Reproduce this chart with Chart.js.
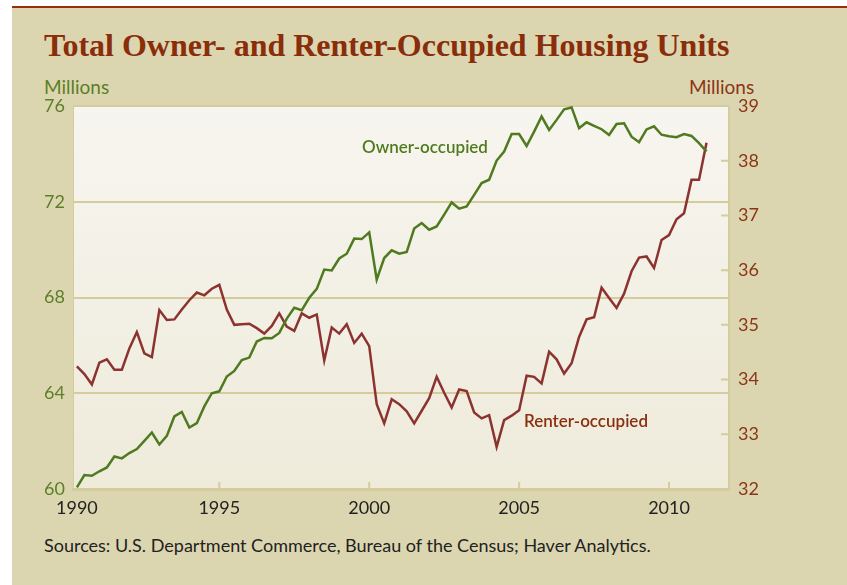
<!DOCTYPE html>
<html lang="en">
<head>
<meta charset="UTF-8">
<title>Total Owner- and Renter-Occupied Housing Units</title>
<script src="https://cdn.jsdelivr.net/npm/chart.js@4"></script>
<style>
  body { margin: 0; background: #fff; width: 847px; height: 585px; position: relative; overflow: hidden; }
  #rule { position: absolute; left: 12px; top: 6px; width: 835px; height: 2px; background: #9a2b0b; }
  #panel { position: absolute; left: 12px; top: 8px; width: 835px; height: 577px; background: #dcd6b0; }
  #titre { position: absolute; left: 44px; top: 27px; font-family: "Liberation Serif", serif; font-size: 32px; font-weight: bold; color: #8a2d0b; white-space: nowrap; }
  .unite { position: absolute; top: 75px; font-family: Lato, sans-serif; font-size: 19px; }
  #uniteG { left: 44px; color: #5b7f26; }
  #uniteD { left: 689px; color: #8b3516; }
  #sources { position: absolute; left: 44px; top: 534px; font-family: Lato, sans-serif; font-size: 18px; color: #222; white-space: nowrap; }
  canvas { position: absolute; left: 0; top: 0; }
</style>
</head>
<body>
  <div id="rule"></div>
  <div id="panel"></div>
  <div id="titre">Total Owner- and Renter-Occupied Housing Units</div>
  <div class="unite" id="uniteG">Millions</div>
  <div class="unite" id="uniteD">Millions</div>
  <div id="sources">Sources: U.S. Department Commerce, Bureau of the Census; Haver Analytics.</div>
  <canvas id="graphique" width="847" height="585"></canvas>

  <script>
    // quarterly data, millions of units
    const quarters = [
      "1990Q1","1990Q2","1990Q3","1990Q4", "1991Q1","1991Q2","1991Q3","1991Q4",
      "1992Q1","1992Q2","1992Q3","1992Q4", "1993Q1","1993Q2","1993Q3","1993Q4",
      "1994Q1","1994Q2","1994Q3","1994Q4", "1995Q1","1995Q2","1995Q3","1995Q4",
      "1996Q1","1996Q2","1996Q3","1996Q4", "1997Q1","1997Q2","1997Q3","1997Q4",
      "1998Q1","1998Q2","1998Q3","1998Q4", "1999Q1","1999Q2","1999Q3","1999Q4",
      "2000Q1","2000Q2","2000Q3","2000Q4", "2001Q1","2001Q2","2001Q3","2001Q4",
      "2002Q1","2002Q2","2002Q3","2002Q4", "2003Q1","2003Q2","2003Q3","2003Q4",
      "2004Q1","2004Q2","2004Q3","2004Q4", "2005Q1","2005Q2","2005Q3","2005Q4",
      "2006Q1","2006Q2","2006Q3","2006Q4", "2007Q1","2007Q2","2007Q3","2007Q4",
      "2008Q1","2008Q2","2008Q3","2008Q4", "2009Q1","2009Q2","2009Q3","2009Q4",
      "2010Q1","2010Q2","2010Q3","2010Q4", "2011Q1"
    ];

    const owner = [
      60.07, 60.58, 60.55, 60.74, 60.90, 61.36, 61.28, 61.50,
      61.67, 62.01, 62.36, 61.86, 62.22, 63.03, 63.22, 62.57,
      62.75, 63.45, 64.00, 64.08, 64.70, 64.93, 65.39, 65.49,
      66.16, 66.31, 66.30, 66.52, 67.12, 67.57, 67.47, 67.99,
      68.36, 69.17, 69.13, 69.63, 69.83, 70.46, 70.44, 70.72,
      68.75, 69.65, 69.97, 69.83, 69.90, 70.88, 71.11, 70.83,
      70.97, 71.46, 71.97, 71.71, 71.80, 72.29, 72.78, 72.92,
      73.72, 74.10, 74.83, 74.83, 74.33, 74.93, 75.56, 75.00,
      75.42, 75.86, 75.94, 75.07, 75.32, 75.17, 75.03, 74.79,
      75.25, 75.28, 74.72, 74.49, 75.02, 75.15, 74.80, 74.74,
      74.70, 74.83, 74.75, 74.45, 74.10
    ];

    const renter = [
      34.24, 34.10, 33.91, 34.31, 34.37, 34.18, 34.18, 34.57,
      34.87, 34.48, 34.41, 35.27, 35.09, 35.10, 35.28, 35.45,
      35.59, 35.54, 35.66, 35.73, 35.28, 35.00, 35.01, 35.02,
      34.94, 34.84, 34.98, 35.21, 34.97, 34.89, 35.21, 35.13,
      35.19, 34.35, 34.95, 34.84, 35.01, 34.67, 34.84, 34.61,
      33.55, 33.20, 33.64, 33.55, 33.42, 33.20, 33.43, 33.66,
      34.05, 33.76, 33.49, 33.82, 33.79, 33.40, 33.29, 33.35,
      32.77, 33.26, 33.34, 33.44, 34.07, 34.05, 33.93, 34.51,
      34.37, 34.11, 34.30, 34.78, 35.10, 35.14, 35.68, 35.49,
      35.31, 35.57, 35.98, 36.23, 36.25, 36.04, 36.55, 36.64,
      36.93, 37.04, 37.65, 37.65, 38.33
    ];

    const yearTicks = [1990, 1995, 2000, 2005, 2010];
    const ownerTicks = [60, 64, 68, 72, 76];
    const renterTicks = [32, 33, 34, 35, 36, 37, 38, 39];

    const vert = "#4f7a1f";
    const rouge = "#8c3330";
    const trait = "#d5cb9d";

    // quarter plotted at the end of its quarter
    function versAnnee(q) {
      const [an, t] = q.split("Q");
      return Number(an) + Number(t) / 4;
    }

    const decor = {
      id: "decor",
      beforeDraw(chart) {
        const { ctx, chartArea: a } = chart;
        const g = ctx.createLinearGradient(0, a.top, 0, a.bottom);
        g.addColorStop(0, "#f7f5ef");
        g.addColorStop(1, "#eeebdb");
        ctx.save();
        ctx.fillStyle = g;
        ctx.fillRect(a.left, a.top, a.right - a.left, a.bottom - a.top);
        ctx.restore();
      },
      beforeDatasetsDraw(chart) {
        const { ctx, chartArea: a, scales } = chart;
        ctx.save();
        ctx.strokeStyle = trait;
        ctx.lineWidth = 2;
        ctx.beginPath();
        ctx.moveTo(a.left, a.top); ctx.lineTo(a.right, a.top);
        ctx.moveTo(a.right, a.top); ctx.lineTo(a.right, a.bottom);
        ctx.stroke();
        ctx.lineWidth = 3;
        ctx.beginPath();
        ctx.moveTo(a.left - 1, a.bottom + 0.5); ctx.lineTo(a.right + 1, a.bottom + 0.5);
        ctx.stroke();
        ctx.lineWidth = 1;
        ctx.beginPath();
        ctx.moveTo(a.left + 0.5, a.top); ctx.lineTo(a.left + 0.5, a.bottom);
        ctx.stroke();
        // small inward ticks
        ctx.lineWidth = 2;
        ctx.beginPath();
        yearTicks.slice(1).forEach(v => {
          const x = scales.x.getPixelForValue(v);
          ctx.moveTo(x, a.bottom); ctx.lineTo(x, a.bottom - 7);
        });
        renterTicks.slice(1, -1).forEach(v => {
          const y = scales.yD.getPixelForValue(v);
          ctx.moveTo(a.right, y); ctx.lineTo(a.right - 8, y);
        });
        ctx.stroke();
        ctx.restore();
      },
      afterDatasetsDraw(chart) {
        const { ctx, scales } = chart;
        ctx.save();
        ctx.font = "600 17px Lato";
        ctx.textBaseline = "middle";
        ctx.fillStyle = vert;
        ctx.fillText("Owner-occupied", scales.x.getPixelForValue(1999.76), scales.yG.getPixelForValue(74.25));
        ctx.fillStyle = "#8a2e0e";
        ctx.fillText("Renter-occupied", scales.x.getPixelForValue(2005.16), scales.yD.getPixelForValue(33.24));
        ctx.restore();
      }
    };

    new Chart(document.getElementById("graphique"), {
      type: "line",
      data: {
        datasets: [
          {
            label: "Owner-occupied",
            data: quarters.map((q, i) => ({ x: versAnnee(q), y: owner[i] })),
            yAxisID: "yG",
            borderColor: vert,
            borderWidth: 2.5,
            pointRadius: 0,
            tension: 0
          },
          {
            label: "Renter-occupied",
            data: quarters.map((q, i) => ({ x: versAnnee(q), y: renter[i] })),
            yAxisID: "yD",
            borderColor: rouge,
            borderWidth: 2.5,
            pointRadius: 0,
            tension: 0
          }
        ]
      },
      options: {
        responsive: false,
        animation: false,
        layout: { padding: { left: 44, top: 106, right: 58, bottom: 60 } },
        plugins: { legend: { display: false }, tooltip: { enabled: false } },
        scales: {
          x: {
            type: "linear",
            min: 1990.12,
            max: 2012,
            afterFit: s => { s.height = 36; },
            afterBuildTicks: s => {
              s.ticks = yearTicks.map(v => ({ value: v === 1990 ? 1990.25 : v }));
            },
            ticks: {
              autoSkip: false,
              maxRotation: 0,
              padding: 8,
              color: "#222",
              font: { family: "Lato", size: 18 },
              callback: v => String(Math.floor(v))
            },
            grid: { display: false, drawTicks: false },
            border: { display: false }
          },
          yG: {
            position: "left",
            min: 60,
            max: 76,
            afterFit: s => { s.width = 29; },
            afterBuildTicks: s => { s.ticks = ownerTicks.map(v => ({ value: v })); },
            ticks: {
              color: "#5b7f26",
              crossAlign: "far",
              padding: 0,
              font: { family: "Lato", size: 18 }
            },
            grid: {
              drawTicks: false,
              lineWidth: 2,
              color: c => (c.tick.value === 60 || c.tick.value === 76) ? "rgba(0,0,0,0)" : trait
            },
            border: { display: false }
          },
          yD: {
            position: "right",
            min: 32,
            max: 39,
            afterFit: s => { s.width = 60; },
            afterBuildTicks: s => { s.ticks = renterTicks.map(v => ({ value: v })); },
            ticks: {
              color: "#8b3516",
              padding: 9,
              font: { family: "Lato", size: 18 }
            },
            grid: { display: false, drawTicks: false },
            border: { display: false }
          }
        }
      },
      plugins: [decor]
    });
  </script>
</body>
</html>
